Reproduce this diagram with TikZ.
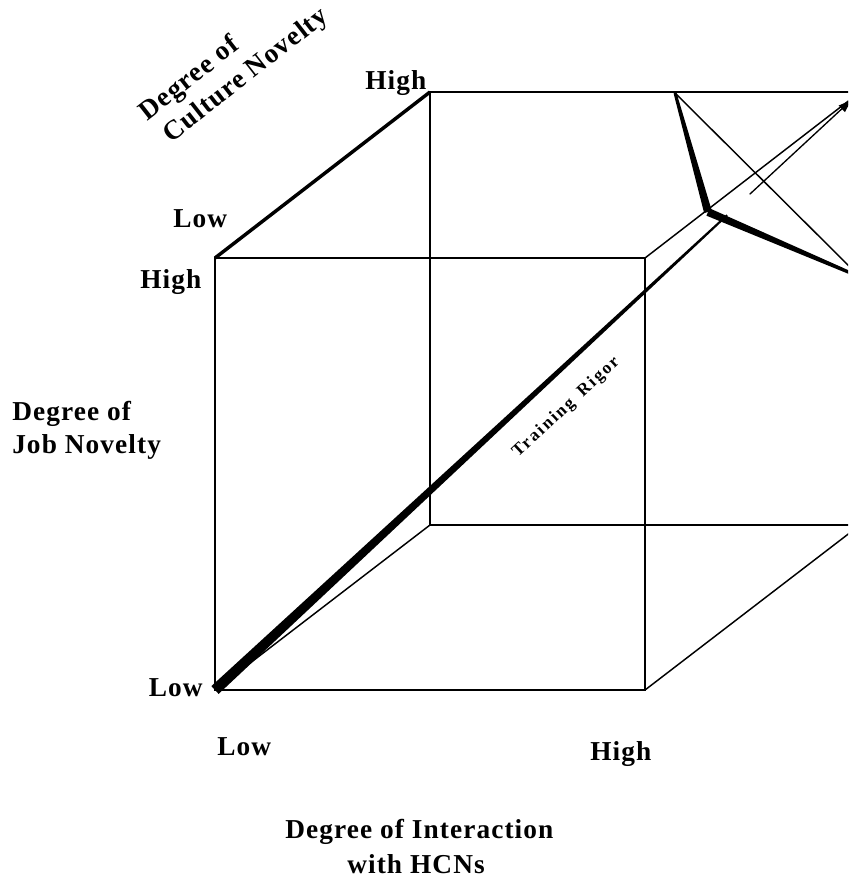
\documentclass[tikz,border=0pt]{standalone}
\usepackage{fontspec}
\setmainfont{Liberation Serif}[LetterSpace=4]
\usetikzlibrary{arrows.meta, calc}

\tikzset{
  lbl/.style={font=\bfseries\fontsize{20.5}{24}\selectfont, inner sep=0pt},
  cubeline/.style={line width=1.5pt},
  recede/.style={line width=1.1pt},
}

\begin{document}
\begin{tikzpicture}[x=0.75pt, y=-0.75pt]
    \useasboundingbox (0,0) rectangle (848,880);
    \clip (0,0) rectangle (848,880);

    % front face
    \coordinate (fbl) at (215,690);
    \coordinate (fbr) at (645,690);
    \coordinate (ftr) at (645,258);
    \coordinate (ftl) at (215,258);
    % back face
    \coordinate (bbl) at (430,525);
    \coordinate (bbr) at (860,525);
    \coordinate (btr) at (860,92);
    \coordinate (btl) at (430,92);

    \draw[cubeline] (ftl) rectangle (fbr);
    \draw[cubeline] (bbr) -- (bbl) -- (btl) -- (btr);
    \draw[recede] (fbl) -- (bbl);
    \draw[recede] (fbr) -- (bbr);
    \draw[recede] (ftr) -- (btr);
    \draw[line width=2.6pt] (ftl) -- (btl);

    % training rigor diagonal
    \coordinate (pierce) at ($(fbl)!0.794!(btr)$);
    \coordinate (exit) at ($(fbl)!0.829!(btr)$);
    \coordinate (tip) at ($(fbl)!0.99!(btr)$);
    \fill ($(fbl)!4pt!90:(btr)$) -- ($(pierce)!0.75pt!90:(btr)$)
        -- ($(pierce)!0.75pt!-90:(btr)$) -- ($(fbl)!4pt!-90:(btr)$) -- cycle;
    \draw[line width=1pt, -{Latex[length=12pt,width=7pt]}] (exit) -- (tip);

    % cut corner
    \coordinate (A) at (675,93);
    \coordinate (B) at (708,212);
    \coordinate (C) at (860,277);
    \draw[recede] (A) -- (C);
    \fill ($(A)!1.1pt!90:(B)$) -- ($(B)!3pt!-90:(A)$)
        -- ($(B)!3pt!90:(A)$) -- ($(A)!1.1pt!-90:(B)$) -- cycle;
    \fill ($(B)!3pt!90:(C)$) -- ($(C)!1.1pt!-90:(B)$)
        -- ($(C)!1.1pt!90:(B)$) -- ($(B)!3pt!-90:(C)$) -- cycle;

    %labels
    \node[lbl, anchor=base west] (cultHigh) at (365,90) {High};
    \node[lbl, anchor=base west] (cultLow) at (173,228) {Low};
    \node[lbl, anchor=base west] (jobHigh) at (140,288) {High};
    \node[lbl, anchor=base east] (jobLow) at (203,696) {Low};
    \node[lbl, anchor=base west] (intLow) at (217,755) {Low};
    \node[lbl, anchor=base west] (intHigh) at (590,760) {High};
    \node[lbl, anchor=base west] (job1) at (12,420) {Degree of};
    \node[lbl, anchor=base west] (job2) at (12,453) {Job Novelty};
    \node[lbl, anchor=base west] (int1) at (285,838) {Degree of Interaction};
    \node[lbl, anchor=base west] (int2) at (347,873) {with HCNs};
    \node[lbl, anchor=south west, rotate=38, align=left] (cult) at (170.5,151.5)
        {Degree of\\\hspace{4pt}Culture Novelty};
    \node[inner sep=0pt, anchor=base west, rotate=43,
        font=\bfseries\fontsize{13}{15}\selectfont\addfontfeatures{LetterSpace=12}]
        (rigor) at (518,458) {Training\hspace{0.2em} Rigor};
\end{tikzpicture}
\end{document}
